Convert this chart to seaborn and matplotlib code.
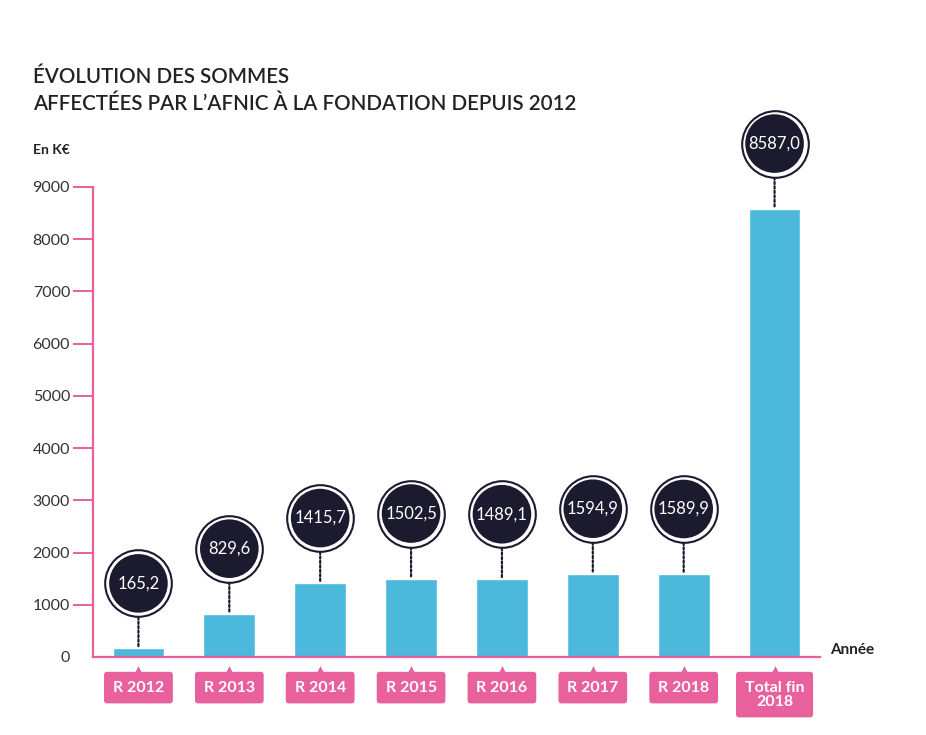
import matplotlib
matplotlib.use("Agg")
import matplotlib.pyplot as plt
import matplotlib.transforms as mtransforms
import pandas as pd
import seaborn as sns

categories = ["R 2012", "R 2013", "R 2014", "R 2015", "R 2016", "R 2017", "R 2018", "Total fin\n2018"]
values = [165.2, 829.6, 1415.7, 1502.5, 1489.1, 1594.9, 1589.9, 8587.0]
value_labels = ["165,2", "829,6", "1415,7", "1502,5", "1489,1", "1594,9", "1589,9", "8587,0"]
y_ticks = [0, 1000, 2000, 3000, 4000, 5000, 6000, 7000, 8000, 9000]

BLUE = "#4bb8dc"
PINK = "#e8609c"
NAVY = "#1c1a2f"
TEXT = "#222222"


def main():
    sns.set_theme(style="white")
    plt.rcParams["font.family"] = ["Lato", "DejaVu Sans"]

    data = pd.DataFrame({"cat": categories, "val": values})

    fig = plt.figure(figsize=(9.26, 7.35), dpi=100)
    ax = fig.add_axes([93 / 926, 1 - 657 / 735, (820 - 93) / 926, (657 - 187) / 735])

    sns.barplot(data=data, x="cat", y="val", color=BLUE, width=0.57, saturation=1, ax=ax)

    ax.set_xlim(-0.5, 7.5)
    ax.set_ylim(0, 9000)
    ax.set_xlabel("")
    ax.set_ylabel("")

    # spines
    sns.despine(ax=ax)
    for side in ["left", "bottom"]:
        ax.spines[side].set_color(PINK)
        ax.spines[side].set_linewidth(1.6)

    # y ticks
    ax.set_yticks(y_ticks)
    ax.set_yticklabels([str(t) for t in y_ticks])
    ax.tick_params(axis="y", left=True, length=14.5, width=1.4, color=PINK, pad=2,
                   labelsize=11.5, labelcolor="#333333")
    ax.yaxis.get_major_ticks()[0].tick1line.set_visible(False)

    # x tick labels as pink boxes
    ax.tick_params(axis="x", bottom=False, length=0, pad=17)
    ax.set_xticks(range(len(categories)))
    ax.set_xticklabels(categories, color="white", fontsize=11.5, fontweight="bold",
                       linespacing=1.0, va="top")
    for lbl in ax.get_xticklabels():
        lbl.set_bbox(dict(boxstyle="round,pad=0.55,rounding_size=0.2", fc=PINK, ec="none"))
    # small pointer on top of each label box
    tri_tr = mtransforms.offset_copy(ax.transData, fig=fig, y=-13, units="dots")
    ax.scatter(range(len(categories)), [0] * len(categories), marker="^", s=40,
               color=PINK, transform=tri_tr, clip_on=False, zorder=3, linewidths=0)

    # bubbles with values
    bub_tr = mtransforms.offset_copy(ax.transData, fig=fig, y=65, units="dots")
    for i, (v, lab) in enumerate(zip(values, value_labels)):
        ax.annotate("", xy=(i, v), xytext=(0, 40), textcoords="offset pixels",
                    arrowprops=dict(arrowstyle="-", linestyle=(0, (1, 1)), color=NAVY,
                                    lw=1.6, shrinkA=0, shrinkB=0), annotation_clip=False)
        ax.scatter([i], [v], s=2300, marker="o", facecolor="white", edgecolor=NAVY,
                   linewidths=1.5, transform=bub_tr, clip_on=False, zorder=4)
        ax.scatter([i], [v], s=1780, marker="o", facecolor=NAVY, edgecolor="none",
                   transform=bub_tr, clip_on=False, zorder=5)
        ax.text(i, v, lab, transform=bub_tr, ha="center", va="center", color="white",
                fontsize=12, zorder=6, clip_on=False)

    # titles and labels
    fig.text(33 / 926, 1 - 67 / 735,
             "ÉVOLUTION DES SOMMES\nAFFECTÉES PAR L’AFNIC À LA FONDATION DEPUIS 2012",
             ha="left", va="top", fontsize=14.8, color=TEXT, linespacing=1.42,
             fontweight="semibold")
    fig.text(33 / 926, 1 - 150 / 735, "En K€", ha="left", va="center", fontsize=10,
             fontweight="bold", color=TEXT)
    fig.text(830 / 926, 1 - 650 / 735, "Année", ha="left", va="center", fontsize=11,
             fontweight="bold", color=TEXT)

    fig.savefig("out.png", dpi=100, facecolor="white")
    plt.close(fig)


if __name__ == "__main__":
    main()
